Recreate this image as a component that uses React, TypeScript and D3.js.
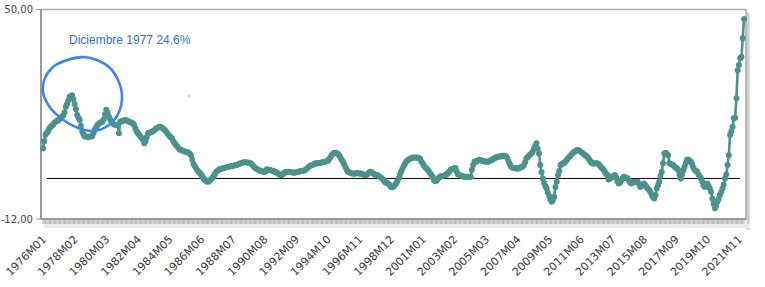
import React, { useEffect } from "react";
import * as d3 from "d3";

const v1976_1985 = [
  8.9, 11.0, 12.9, 13.5, 14.0, 14.8, 15.3, 15.6, 16.0, 16.5, 16.8, 17.0,
  17.2, 17.5, 17.8, 18.3, 18.6, 19.5, 21.2, 22.0, 23.0, 24.2, 24.0, 24.6,
  23.5, 22.0, 20.5, 18.8, 18.0, 17.3, 15.5, 13.8, 13.0, 12.4, 12.5, 12.3,
  12.2, 12.4, 12.4, 12.6, 13.5, 14.5, 15.2, 15.8, 16.2, 16.5, 16.6, 16.8,
  17.5, 19.0, 20.3, 19.5, 18.3, 17.5, 16.8, 16.3, 16.0, 15.9, 15.8, 15.8,
  13.4, 16.8, 16.9, 17.0, 17.2, 17.3, 17.2, 17.0, 16.8, 16.6, 16.5, 16.3,
  15.8, 14.8, 14.0, 13.4, 12.9, 12.5, 12.0, 11.5, 10.4, 11.0, 12.2, 13.4,
  13.5, 13.6, 13.8, 14.0, 14.3, 14.6, 14.9, 15.1, 15.3, 15.2, 15.0, 14.8,
  14.4, 14.0, 13.5, 13.0, 12.6, 12.2, 11.9, 11.0, 10.4, 9.9, 9.5, 9.0,
  8.6, 8.4, 8.3, 8.1, 8.0, 7.9, 7.8, 7.6, 7.3, 6.9, 5.5, 4.3,
];
const v1986_1995 = [
  3.6, 3.0, 2.4, 2.0, 1.6, 1.2, 0.6, 0.0, -0.5, -0.8, -1.0, -0.9,
  -0.6, -0.2, 0.3, 0.8, 1.4, 2.0, 2.3, 2.6, 2.8, 2.9, 3.0, 3.1,
  3.2, 3.3, 3.4, 3.5, 3.6, 3.6, 3.7, 3.8, 3.9, 4.0, 4.1, 4.3,
  4.5, 4.6, 4.7, 4.8, 4.8, 4.7, 4.7, 4.6, 4.5, 4.2, 3.8, 3.4,
  3.0, 2.8, 2.6, 2.4, 2.2, 2.1, 2.0, 1.9, 2.2, 2.7, 2.6, 2.5,
  2.4, 2.3, 2.2, 2.0, 1.9, 1.6, 1.4, 1.2, 1.0, 1.1, 1.4, 1.8,
  1.9, 2.0, 2.0, 1.9, 1.8, 1.8, 1.7, 1.7, 1.8, 1.9, 2.0, 2.1,
  2.2, 2.2, 2.3, 2.4, 2.7, 3.0, 3.5, 3.7, 3.9, 4.0, 4.2, 4.4,
  4.5, 4.5, 4.5, 4.6, 4.7, 4.8, 4.9, 5.0, 5.0, 5.2, 5.6, 6.2,
  6.9, 7.2, 7.5, 7.6, 7.5, 7.3, 6.9, 6.3, 5.5, 5.0, 4.2, 3.4,
];
const v1996_2005 = [
  2.6, 2.0, 1.8, 1.6, 1.5, 1.5, 1.4, 1.5, 1.6, 1.5, 1.5, 1.5,
  1.4, 1.2, 1.1, 1.0, 1.2, 1.5, 1.8, 2.0, 1.8, 1.5, 1.2, 1.1,
  1.0, 0.8, 0.5, 0.3, 0.0, -0.4, -1.0, -1.2, -1.4, -1.6, -2.0, -2.5,
  -2.6, -2.4, -2.0, -1.5, -0.8, 0.0, 1.0, 2.0, 2.8, 3.6, 4.3, 5.0,
  5.3, 5.6, 5.8, 6.0, 6.1, 6.2, 6.2, 6.2, 6.1, 6.1, 5.8, 5.0,
  4.5, 3.8, 3.3, 3.0, 2.6, 2.1, 1.5, 1.0, 0.4, -0.5, -0.8, -0.6,
  -0.2, 0.3, 0.5, 0.7, 0.8, 0.9, 1.0, 1.2, 1.6, 2.0, 2.5, 2.7,
  2.9, 3.0, 3.1, 2.0, 1.2, 1.0, 0.9, 0.8, 0.6, 0.5, 0.5, 0.5,
  0.5, 0.4, 0.5, 2.6, 4.0, 5.0, 4.9, 5.2, 5.4, 5.5, 5.4, 5.3,
  5.1, 5.0, 5.0, 4.9, 5.0, 5.2, 5.4, 5.5, 5.8, 6.0, 6.2, 6.4,
];
const v2006_2015 = [
  6.4, 6.5, 6.6, 6.7, 6.7, 6.6, 6.6, 6.0, 5.0, 4.2, 3.5, 3.2,
  3.1, 3.0, 3.0, 2.9, 3.0, 3.2, 3.4, 3.5, 4.0, 4.8, 6.0, 6.3,
  6.8, 7.1, 7.4, 7.9, 8.9, 9.6, 10.4, 8.8, 7.4, 4.0, 1.8, 0.0,
  -1.3, -2.2, -3.0, -4.2, -5.2, -6.2, -6.9, -6.4, -5.4, -2.5, -1.0, 1.0,
  2.2, 4.0, 4.2, 4.5, 4.6, 5.0, 5.5, 6.0, 6.4, 6.8, 7.2, 7.6,
  7.9, 8.1, 8.4, 8.4, 8.2, 7.9, 7.6, 7.3, 7.0, 6.7, 6.4, 6.0,
  5.4, 4.9, 4.5, 4.4, 4.4, 4.5, 4.5, 4.3, 3.8, 3.3, 3.0, 2.6,
  2.0, 1.4, 1.0, -0.3, -0.1, 0.3, 0.6, 0.8, 1.0, 0.2, -0.8, -1.5,
  -1.2, -0.6, 0.0, 0.5, 0.3, 0.2, 0.0, -0.6, -1.2, -1.5, -1.2, -1.0,
  -1.0, -1.0, -1.0, -1.6, -2.5, -2.2, -1.8, -1.5, -2.0, -2.6, -3.0, -3.4,
];
const v2016_2022 = [
  -3.9, -4.8, -5.5, -5.9, -5.0, -3.0, -2.0, -1.0, 0.7, 2.0, 4.5, 7.4,
  7.6, 7.2, 6.9, 4.5, 4.3, 4.1, 4.0, 3.6, 3.2, 3.0, 2.5, 1.2,
  0.0, 1.2, 2.4, 3.5, 4.5, 5.5, 5.6, 5.2, 5.0, 4.2, 3.2, 2.5,
  2.2, 2.0, 1.2, 0.6, 0.0, -1.0, -2.0, -2.5, -2.0, -1.5, -2.2, -3.0,
  -4.0, -6.0, -7.5, -8.8, -8.0, -6.8, -6.0, -4.8, -4.0, -3.0, -1.8, 0.0,
  1.2, 4.0, 6.9, 12.9, 14.0, 15.3, 17.8, 18.0, 23.7, 32.0, 33.6, 35.6,
  36.0, 41.5, 47.2,
];

const values = [...v1976_1985, ...v1986_1995, ...v1996_2005, ...v2006_2015, ...v2016_2022];

const months: string[] = [];
for (let y = 1976; months.length < values.length; y++) {
  for (let m = 1; m <= 12 && months.length < values.length; m++) {
    months.push(`${y}M${m < 10 ? "0" + m : m}`);
  }
}

const tickLabels = [
  "1976M01", "1978M02", "1980M03", "1982M04", "1984M05", "1986M06",
  "1988M07", "1990M08", "1992M09", "1994M10", "1996M11", "1998M12",
  "2001M01", "2003M02", "2005M03", "2007M04", "2009M05", "2011M06",
  "2013M07", "2015M08", "2017M09", "2019M10", "2021M11",
];
const yTicks = [50, -12];
const yTickLabels = ["50,00", "-12,00"];
const refValue = 0;
const annotationText = "Diciembre 1977 24,6%";

const W = 765, H = 287;
const plotL = 41, plotR = 746, plotT = 9.5, plotB = 219;
const teal = "#4b928a";

export default function App() {
  useEffect(() => {
    document.body.style.margin = "0";
  }, []);

  const x = d3.scalePoint<string>().domain(months).range([43, 744]);
  const y = d3.scaleLinear().domain([-12, 50]).range([plotB, plotT]);

  const line = d3
    .line<number>()
    .x((_, i) => x(months[i])!)
    .y((d) => y(d));

  // hand-drawn annotation loop (shape only)
  const loopPts: [number, number][] = [
    [60, 63], [70, 59], [82, 57], [97, 60], [110, 68], [118, 80], [122, 95],
    [119, 112], [109, 125], [94, 131], [78, 128], [62, 119], [49, 106],
    [43, 92], [45, 78], [53, 67], [64, 61], [76, 58], [86, 57],
  ];
  const loop = d3.line().curve(d3.curveCatmullRom.alpha(0.5))(loopPts) || "";

  return (
    <svg width={W} height={H} style={{ display: "block", background: "#fff" }}
      fontFamily="'DejaVu Sans', sans-serif">
      {/* shadow */}
      <rect x={plotR} y={plotT + 3} width={4} height={plotB - plotT + 8} fill="#e2e2e2" />
      <rect x={plotR + 1} y={plotT + 4} width={2} height={plotB - plotT + 6} fill="#d0d0d0" />
      <rect x={plotL + 3} y={plotB + 5} width={plotR - plotL + 1} height={4} fill="#ececec" />
      {/* frame */}
      <rect x={plotL} y={plotT} width={plotR - plotL} height={plotB - plotT} fill="#fff"
        stroke="#a8a8a8" strokeWidth={1.5} />
      <line x1={plotL} x2={plotL} y1={plotT} y2={plotB} stroke="#999" strokeWidth={2} />
      <line x1={plotL} x2={plotR} y1={plotB} y2={plotB} stroke="#999" strokeWidth={2} />
      {/* month ticks */}
      <g stroke="#9a9a9a" strokeWidth={0.7}>
        {months.map((m) => (
          <line key={m} x1={x(m)} x2={x(m)} y1={plotB} y2={plotB + 5} />
        ))}
      </g>
      {/* y ticks */}
      {yTicks.map((t, i) => (
        <g key={t}>
          <line x1={36} x2={plotL} y1={y(t)} y2={y(t)} stroke="#999" strokeWidth={1} />
          <text x={33} y={y(t)} dy="0.35em" textAnchor="end" fontSize={10} fill="#444">
            {yTickLabels[i]}
          </text>
        </g>
      ))}
      {/* x labels */}
      {tickLabels.map((t) => {
        const px = x(t)! + 4;
        const py = 240;
        return (
          <text key={t} x={px} y={py} textAnchor="end" fontSize={11} fill="#3a3a3a"
            transform={`rotate(-45 ${px} ${py})`}>
            {t}
          </text>
        );
      })}
      {/* zero reference line */}
      <line x1={47} x2={740} y1={y(refValue)} y2={y(refValue)} stroke="#000" strokeWidth={1} />
      {/* series */}
      <path d={line(values) || ""} fill="none" stroke={teal} strokeWidth={2.6} />
      <g fill={teal}>
        {values.map((v, i) => (
          <circle key={i} cx={x(months[i])} cy={y(v)} r={3} />
        ))}
      </g>
      {/* annotation */}
      <path d={loop} fill="none" stroke="#3d84f0" strokeWidth={2.6} strokeLinecap="round" />
      <circle cx={189} cy={96} r={0.8} fill="#7a9ad8" />
      <text x={69} y={44} fontFamily="'Liberation Sans', Arial, sans-serif" fontSize={12}
        fill="#2f6fd2">
        {annotationText}
      </text>
    </svg>
  );
}
